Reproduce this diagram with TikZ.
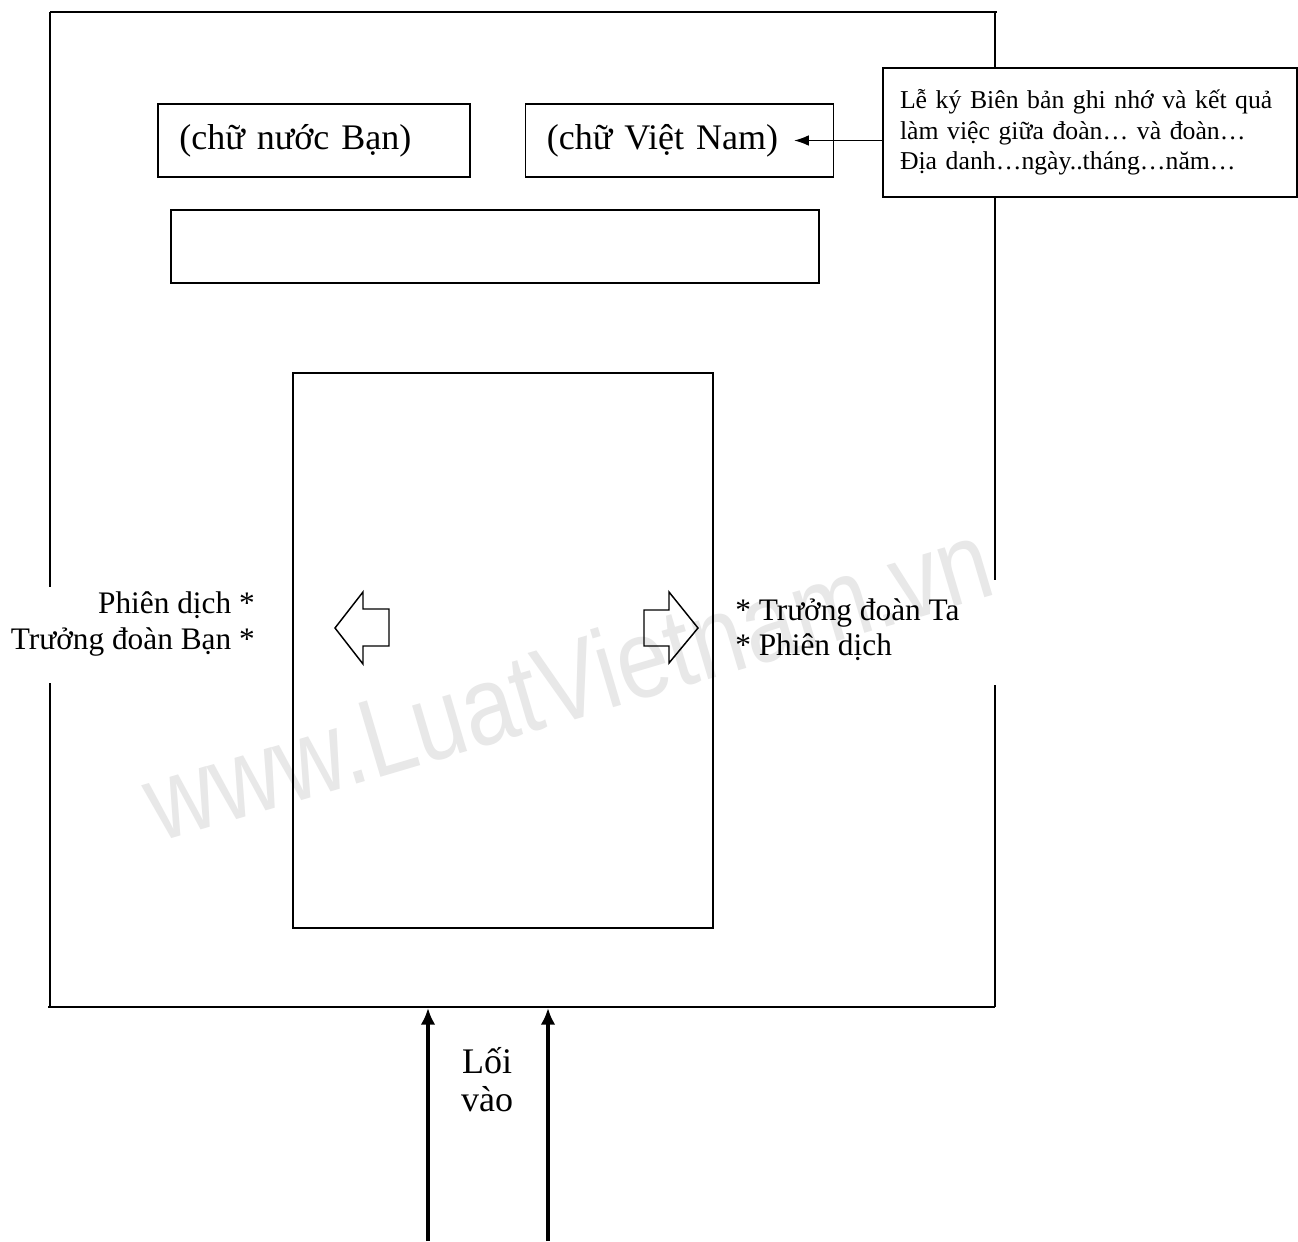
\documentclass[tikz,border=0pt]{standalone}
\usepackage{fontspec}
\setmainfont{Liberation Serif}
\newfontfamily\wmfont{Liberation Sans}
\usetikzlibrary{arrows.meta, positioning}

\begin{document}
\begin{tikzpicture}[
        x=0.75pt, y=-0.75pt,
        wall/.style={line width=1.3pt},
        sign/.style={rectangle, draw, line width=1.1pt, inner xsep=16pt, inner ysep=0pt, minimum height=54.75pt, align=left, font=\fontsize{27}{30}\selectfont},
        note/.style={rectangle, draw, fill=white, line width=1.1pt, inner xsep=12.75pt, minimum height=96.75pt, text width=285pt, align=left, font=\fontsize{19.3}{23}\selectfont},
        seat/.style={inner sep=0pt, font=\fontsize{23.5}{26.5}\selectfont},
        hollow/.style={draw, line width=1.1pt, line join=miter},
        arrow/.style={line width=0.9pt, -{Latex[length=11pt, width=8pt]}},
        entry/.style={line width=2.4pt, -{Latex[length=12.5pt, width=11pt]}}
    ]

    \fill[white] (0,0) rectangle (1298,1241);
    \useasboundingbox (0,0) rectangle (1298,1241);

    % watermark
    \node (wm) [rotate=16.5, text=gray!18, inner sep=0pt, font=\wmfont\fontsize{84}{84}\selectfont] at (567,680) {\scalebox{0.84}[1]{www.LuatVietnam.vn}};

    % hall walls
    \draw[wall] (50,12) -- (997,12);
    \draw[wall] (50,12) -- (50,587);
    \draw[wall] (50,683) -- (50,1007);
    \draw[wall] (48,1007) -- (995,1007);
    \draw[wall] (995,12) -- (995,580);
    \draw[wall] (995,685) -- (995,1007);

    % signs on the back wall
    \node (fr) [sign, text width=202pt] at (314,140.5) {(chữ nước Bạn)};
    \node (vn) [sign, text width=199pt, right=40.5pt of fr] {(chữ Việt Nam)};
    \node (banner) [sign, minimum width=486pt] at (495,246.5) {};

    \node (note) [note] at (1090,132.5) {Lễ ký Biên bản ghi nhớ và kết quả\\làm việc giữa đoàn\dots\ và đoàn\dots\\Địa danh\dots ngày..tháng\dots năm\dots};
    \coordinate (vntip) at ([xshift=-30pt]vn.east);
    \draw[arrow] (note.west |- vntip) -- (vntip);

    % signing table
    \node (table) [rectangle, draw, line width=1.1pt, minimum width=315pt, minimum height=416.25pt] at (503,650.5) {};

    \draw[hollow] (335,628) -- (363,592) -- (363,609) -- (389,609) -- (389,646) -- (363,646) -- (363,664) -- cycle;
    \draw[hollow] (698,628) -- (669,592) -- (669,610) -- (644,610) -- (644,646) -- (669,646) -- (669,663) -- cycle;

    \node (guest) [seat, align=right, anchor=east] at (255,624) {Phiên dịch *\\Trưởng đoàn Bạn *};
    \node (host) [seat, align=left, anchor=west] at (735,630) {* Trưởng đoàn Ta\\* Phiên dịch};

    % entrance
    \coordinate (in1) at (428,1241);
    \coordinate (in2) at (548,1241);
    \coordinate (door1) at (428,1008);
    \coordinate (door2) at (548,1008);
    \draw[entry] (in1) -- (door1);
    \draw[entry] (in2) -- (door2);
    \node (entrance) [align=center, inner sep=0pt, font=\fontsize{27}{28.5}\selectfont] at (487,1080) {Lối\\vào};

\end{tikzpicture}
\end{document}
